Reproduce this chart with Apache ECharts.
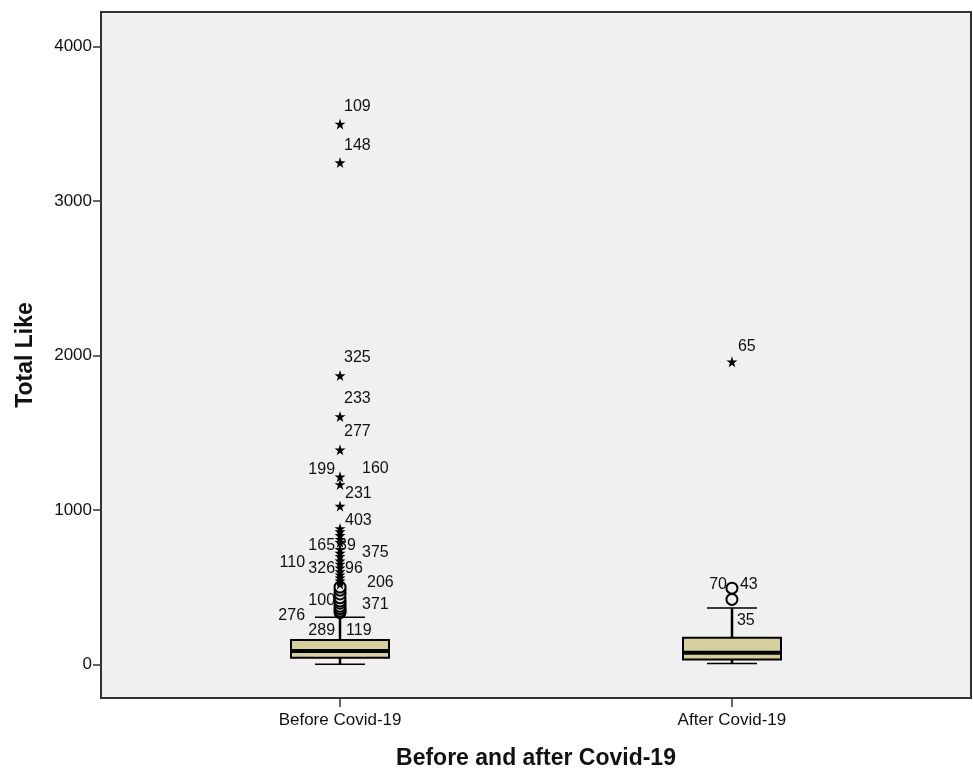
<!DOCTYPE html>
<html><head><meta charset="utf-8">
<script src="https://cdn.jsdelivr.net/npm/echarts/dist/echarts.min.js"></script>
<style>html,body{margin:0;padding:0;background:#fff;overflow:hidden;width:100%;height:100%;}#c{width:100vw;height:100vh;}</style>
</head><body><div id="c"></div>
<script>
// ---------- data ----------
const categories = ['Before Covid-19', 'After Covid-19'];
const yTicks = [0, 1000, 2000, 3000, 4000];
// [lower whisker, Q1, median, Q3, upper whisker]
const beforeBox = [0, 42, 86, 157, 304];
const afterBox = [5, 30, 74, 172, 365];
// outliers (circles) and extreme values (stars)
const beforeCircles = [335, 345, 360, 375, 395, 410, 430, 455, 480, 500];
const beforeStars = [3500, 3250, 1870, 1605, 1390, 1215, 1165, 1025, 880, 860, 835, 810, 790,
                     745, 720, 700, 670, 650, 625, 600, 580, 560, 540, 520];
const afterCircles = [420, 493];
const afterStars = [1960];
// case labels and the value each one is attached to
const beforeLabelIds = ['109','148','325','233','277','199','160','231','403','165','89','375',
                        '110','326','96','206','100','371','276','289','119'];
const beforeLabelAnchors = [3500, 3250, 1870, 1605, 1390, 1215, 1165, 1025, 860, 790, 790, 745,
                            670, 625, 625, 540, 410, 395, 335, 304, 304];
const afterLabelIds = ['65', '70', '43', '35'];
const afterLabelAnchors = [1960, 493, 493, 365];

// ---------- label placement (style) ----------
const labelStyle = {
  '109':[4,-17,'left'], '148':[4,-17,'left'], '325':[4,-18,'left'], '233':[4,-18,'left'],
  '277':[4,-18,'left'], '199':[-5,-7,'right'], '160':[22,-16,'left'], '231':[5,-12,'left'],
  '403':[5,-11,'left'], '165':[-5,3,'right'], '89':[-2,3,'left'], '375':[22,3,'left'],
  '110':[-35,2,'right'], '326':[-5,1,'right'], '96':[5,1,'left'], '206':[27,2,'left'],
  '100':[-5,0,'right'], '371':[22,1,'left'], '276':[-35,3,'right'], '289':[-5,13,'right'],
  '119':[6,13,'left'],
  '65':[6,-15,'left'], '70':[-5,-4,'right'], '43':[8,-4,'left'], '35':[5,13,'left']
};

const FONT = "'Liberation Sans', Arial, sans-serif";
const starPath = 'path://M50,0 L61,35 L98,35 L68,57 L79,91 L50,70 L21,91 L32,57 L2,35 L39,35 Z';

const boxData = [[1].concat(beforeBox), [2].concat(afterBox)];
const circleData = beforeCircles.map(v => [1, v]).concat(afterCircles.map(v => [2, v]));
const starData = beforeStars.map(v => [1, v]).concat(afterStars.map(v => [2, v]));
const labelIds = beforeLabelIds.concat(afterLabelIds);
const labelData = beforeLabelAnchors.map(v => [1, v]).concat(afterLabelAnchors.map(v => [2, v]));

function renderBox(params, api) {
  const x = api.value(0);
  const lo = api.coord([x, api.value(1)]);
  const q1 = api.coord([x, api.value(2)]);
  const med = api.coord([x, api.value(3)]);
  const q3 = api.coord([x, api.value(4)]);
  const hi = api.coord([x, api.value(5)]);
  const cx = Math.round(lo[0]);
  const hw = 49, cw = 25;
  const ls = {stroke: '#000', lineWidth: 2.5};
  const cs = {stroke: '#000', lineWidth: 1.5};
  return {type: 'group', children: [
    {type: 'line', shape: {x1: cx, y1: hi[1], x2: cx, y2: q3[1]}, style: ls},
    {type: 'line', shape: {x1: cx, y1: q1[1], x2: cx, y2: lo[1]}, style: ls},
    {type: 'line', shape: {x1: cx - cw, y1: hi[1], x2: cx + cw, y2: hi[1]}, style: cs},
    {type: 'line', shape: {x1: cx - cw, y1: lo[1], x2: cx + cw, y2: lo[1]}, style: cs},
    {type: 'rect', shape: {x: cx - hw, y: q3[1], width: 2 * hw, height: q1[1] - q3[1]},
     style: {fill: '#d4cf9c', stroke: '#000', lineWidth: 2}},
    {type: 'line', shape: {x1: cx - hw, y1: med[1], x2: cx + hw, y2: med[1]},
     style: {stroke: '#000', lineWidth: 4}}
  ]};
}

function renderLabel(params, api) {
  const p = api.coord([api.value(0), api.value(1)]);
  const id = labelIds[params.dataIndex];
  const s = labelStyle[id] || [4, -15, 'left'];
  return {type: 'text', x: p[0] + s[0], y: p[1] + s[1],
    style: {text: id, fill: '#111', font: '16px ' + FONT, align: s[2], verticalAlign: 'middle'}};
}

const chart = echarts.init(document.getElementById('c'), null, {renderer: 'canvas'});
chart.setOption({
  backgroundColor: '#ffffff',
  animation: false,
  grid: {left: 101, right: 2, top: 12, bottom: 72, show: true,
         backgroundColor: '#f0f0f0', borderColor: '#333', borderWidth: 2},
  xAxis: {
    type: 'value', min: 0.39, max: 2.61,
    name: 'Before and after Covid-19', nameLocation: 'middle', nameGap: 49,
    nameTextStyle: {fontFamily: FONT, fontSize: 23, fontWeight: 'bold', color: '#111'},
    axisLine: {show: true, onZero: false, lineStyle: {color: '#333', width: 2}},
    axisTick: {show: true, customValues: [1, 2], length: 9, lineStyle: {color: '#333', width: 1.5}},
    axisLabel: {show: true, customValues: [1, 2], margin: 14, fontFamily: FONT, fontSize: 17, color: '#111',
                formatter: v => categories[Math.round(v) - 1] || ''},
    splitLine: {show: false}
  },
  yAxis: {
    type: 'value', min: -218.6, max: 4225,
    name: 'Total Like', nameLocation: 'middle', nameGap: 64,
    nameTextStyle: {fontFamily: FONT, fontSize: 23, fontWeight: 'bold', color: '#111'},
    axisLine: {show: true, onZero: false, lineStyle: {color: '#333', width: 2}},
    axisTick: {show: true, customValues: yTicks, length: 8, lineStyle: {color: '#333', width: 1.5}},
    axisLabel: {show: true, customValues: yTicks, margin: 9, fontFamily: FONT, fontSize: 17, color: '#111',
                formatter: v => String(v)},
    splitLine: {show: false}
  },
  series: [
    {type: 'custom', renderItem: renderBox, data: boxData, encode: {x: 0, y: [1, 2, 3, 4, 5]}, z: 2},
    {type: 'scatter', data: circleData, symbol: 'circle', symbolSize: 11,
     itemStyle: {color: '#f0f0f0', borderColor: '#000', borderWidth: 2, opacity: 1}, z: 3},
    {type: 'scatter', data: starData, symbol: starPath, symbolSize: 11,
     itemStyle: {color: '#000', opacity: 1}, z: 4},
    {type: 'custom', renderItem: renderLabel, data: labelData, encode: {x: 0, y: 1}, z: 5}
  ]
});
</script></body></html>
